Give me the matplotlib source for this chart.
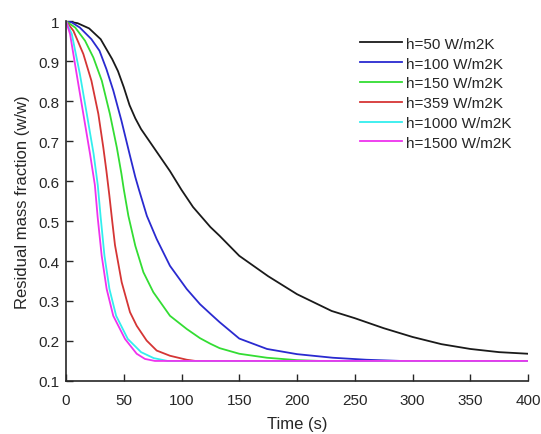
import matplotlib.pyplot as plt

plt.rcParams['font.family'] = ['Liberation Sans', 'DejaVu Sans']

# values
t_black = [0, 10, 20, 30, 40, 45, 50, 55, 60, 65, 75, 90, 100, 110, 125, 133, 150, 175, 200, 230, 250, 275, 300, 325, 350, 375, 400]
m_black = [1.0, 0.995, 0.982, 0.955, 0.905, 0.875, 0.835, 0.79, 0.757, 0.73, 0.688, 0.625, 0.578, 0.535, 0.485, 0.463, 0.413, 0.362, 0.317, 0.275, 0.257, 0.232, 0.21, 0.192, 0.18, 0.172, 0.168]

t_blue = [0, 5, 12, 22, 29, 35, 41, 48, 55, 60, 63, 70, 78.5, 90, 104.5, 116, 125, 133, 150, 174, 200, 231, 260, 290, 400]
m_blue = [1.0, 0.997, 0.984, 0.955, 0.926, 0.88, 0.826, 0.751, 0.668, 0.61, 0.58, 0.513, 0.455, 0.388, 0.33, 0.292, 0.268, 0.247, 0.206, 0.18, 0.167, 0.158, 0.153, 0.15, 0.15]

t_green = [0, 8, 16.5, 23.7, 31, 38, 44, 48, 50, 54, 60, 67, 75.6, 90, 104.5, 116, 125, 133, 150, 174, 200, 220, 400]
m_green = [1.0, 0.984, 0.951, 0.909, 0.851, 0.768, 0.684, 0.618, 0.58, 0.513, 0.438, 0.372, 0.322, 0.263, 0.23, 0.207, 0.193, 0.182, 0.168, 0.158, 0.152, 0.15, 0.15]

t_red = [0, 6.4, 15, 22, 28, 32.3, 35, 37.5, 40, 42.4, 48.2, 55.4, 61.2, 69.8, 78.5, 90, 104.5, 112, 400]
m_red = [1.0, 0.976, 0.918, 0.851, 0.768, 0.684, 0.625, 0.565, 0.5, 0.44, 0.347, 0.272, 0.238, 0.201, 0.176, 0.163, 0.153, 0.15, 0.15]

t_cyan = [0, 5, 12, 18, 23.9, 27.5, 30, 33.3, 37.6, 43.4, 53.5, 65, 76, 88, 400]
m_cyan = [1.0, 0.968, 0.868, 0.768, 0.668, 0.59, 0.51, 0.413, 0.33, 0.263, 0.205, 0.172, 0.157, 0.15, 0.15]

t_mag = [0, 3.5, 9.2, 15, 20.8, 25, 27.4, 30.9, 35.2, 40.9, 51.1, 61.2, 68.4, 77, 400]
m_mag = [1.0, 0.968, 0.868, 0.768, 0.668, 0.59, 0.51, 0.413, 0.33, 0.263, 0.205, 0.168, 0.155, 0.15, 0.15]

labels = ['h=50 W/m2K', 'h=100 W/m2K', 'h=150 W/m2K', 'h=359 W/m2K', 'h=1000 W/m2K', 'h=1500 W/m2K']
colors = ['#1a1a1a', '#2a2ad0', '#33dd33', '#d53535', '#33eeee', '#ee33ee']

x_ticks = [0, 50, 100, 150, 200, 250, 300, 350, 400]
y_ticks = [0.1, 0.2, 0.3, 0.4, 0.5, 0.6, 0.7, 0.8, 0.9, 1]

dark = '#262626'

fig = plt.figure(figsize=(5.41, 4.35), dpi=100)
ax = fig.add_axes([0.122, 0.122, 0.854, 0.827])

series = [(t_black, m_black), (t_blue, m_blue), (t_green, m_green),
          (t_red, m_red), (t_cyan, m_cyan), (t_mag, m_mag)]
for (t, m), c, lab in zip(series, colors, labels):
    ax.plot(t, m, color=c, lw=1.3, label=lab)

ax.set_xlim(0, 400)
ax.set_ylim(0.1, 1)
ax.set_xticks(x_ticks)
ax.set_yticks(y_ticks)
ax.set_yticklabels([f'{v:g}' for v in y_ticks])

for side in ['top', 'right']:
    ax.spines[side].set_visible(False)
for side in ['left', 'bottom']:
    ax.spines[side].set_linewidth(1.2)
    ax.spines[side].set_color(dark)

ax.tick_params(direction='in', length=5, width=1, colors=dark, labelsize=11)
ax.tick_params(axis='x', pad=9)
ax.tick_params(axis='y', pad=5)
ax.set_xlabel('Time (s)', fontsize=12, color=dark, labelpad=6)
ax.set_ylabel('Residual mass fraction (w/w)', fontsize=12, color=dark, labelpad=6)

leg = ax.legend(loc='upper right', bbox_to_anchor=(0.993, 0.995), frameon=False,
                fontsize=11, handlelength=2.75, handletextpad=0.2, labelspacing=0.38)
for txt in leg.get_texts():
    txt.set_color(dark)

fig.savefig('out.png', dpi=100)
